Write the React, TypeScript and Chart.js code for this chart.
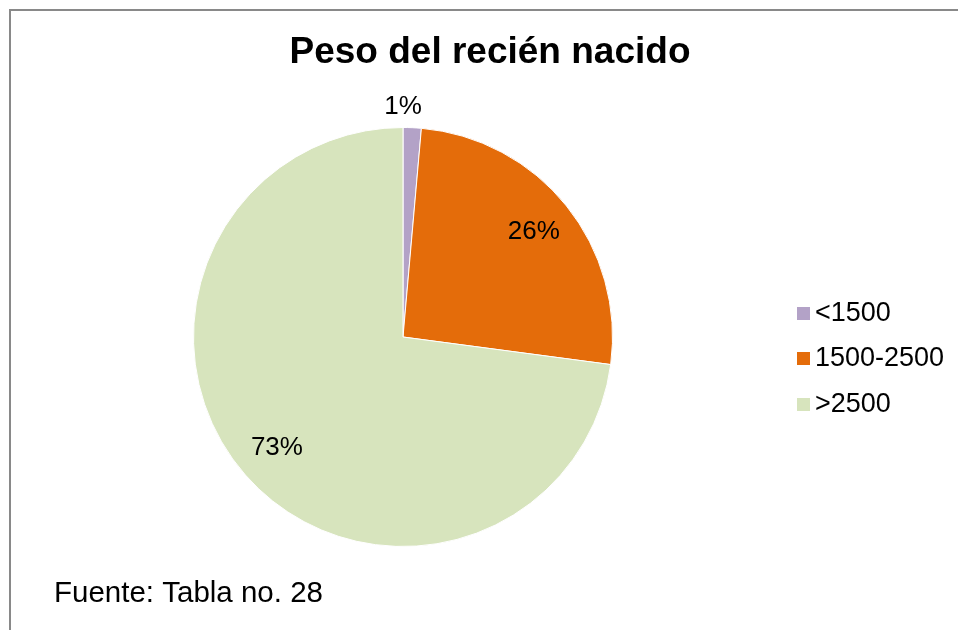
import React, { useEffect, useRef } from "react";
import { Chart, registerables } from "chart.js";

Chart.register(...registerables);

const categories = ["<1500", "1500-2500", ">2500"];
const values = [1.4, 25.7, 72.9];
const percentLabels = ["1%", "26%", "73%"];
const colors = ["#B3A2C7", "#E46C0A", "#D7E4BD"];
const titleText = "Peso del recién nacido";
const sourceText = "Fuente: Tabla no. 28";

const FONT = "'Liberation Sans', Arial, sans-serif";

const decorPlugin = {
  id: "decor",
  beforeDraw(chart: any) {
    const ctx = chart.ctx;
    ctx.save();
    ctx.fillStyle = "#ffffff";
    ctx.fillRect(0, 0, chart.width, chart.height);
    ctx.strokeStyle = "#898989";
    ctx.lineWidth = 2;
    ctx.beginPath();
    ctx.moveTo(10, chart.height);
    ctx.lineTo(10, 10);
    ctx.lineTo(chart.width, 10);
    ctx.stroke();
    ctx.restore();
  },
  afterDraw(chart: any) {
    const ctx = chart.ctx;
    ctx.save();
    // title
    ctx.fillStyle = "#000";
    ctx.textAlign = "center";
    ctx.textBaseline = "middle";
    ctx.font = `bold 37px ${FONT}`;
    ctx.fillText(titleText, 490, 53);

    // data labels
    const meta = chart.getDatasetMeta(0);
    ctx.font = `26px ${FONT}`;
    meta.data.forEach((arc: any, i: number) => {
      const { x, y, startAngle, endAngle, outerRadius } = arc.getProps(
        ["x", "y", "startAngle", "endAngle", "outerRadius"],
        true
      );
      const mid = (startAngle + endAngle) / 2;
      const span = endAngle - startAngle;
      const r = outerRadius * 0.8;
      let lx, ly;
      if (span < 0.2) {
        lx = x;
        ly = y + (outerRadius + 21) * Math.sin(mid);
      } else {
        lx = x + r * Math.cos(mid);
        ly = y + r * Math.sin(mid);
      }
      ctx.fillText(percentLabels[i], lx, ly);
    });

    // legend
    ctx.textAlign = "left";
    ctx.font = `27px ${FONT}`;
    const legY = [313, 358, 404];
    categories.forEach((c, i) => {
      ctx.fillStyle = colors[i];
      ctx.fillRect(797, legY[i] - 6, 13, 13);
      ctx.fillStyle = "#000";
      ctx.fillText(c, 815, legY[i] + 1);
    });

    // source
    ctx.font = `29.5px ${FONT}`;
    ctx.fillText(sourceText, 54, 594);
    ctx.restore();
  },
};

export default function App() {
  const ref = useRef<HTMLCanvasElement | null>(null);
  useEffect(() => {
    document.body.style.margin = "0";
    if (!ref.current) return;
    const chart = new Chart(ref.current, {
      type: "pie",
      data: {
        labels: categories,
        datasets: [
          {
            data: values,
            backgroundColor: colors,
            borderColor: "#ffffff",
            borderWidth: 1,
          },
        ],
      },
      options: {
        responsive: false,
        animation: false,
        layout: { padding: { left: 193, right: 345, top: 127, bottom: 83 } },
        plugins: {
          legend: { display: false },
          tooltip: { enabled: false },
          title: { display: false },
        },
      },
      plugins: [decorPlugin],
    });
    return () => chart.destroy();
  }, []);
  return <canvas ref={ref} width={958} height={630} style={{ display: "block" }} />;
}
